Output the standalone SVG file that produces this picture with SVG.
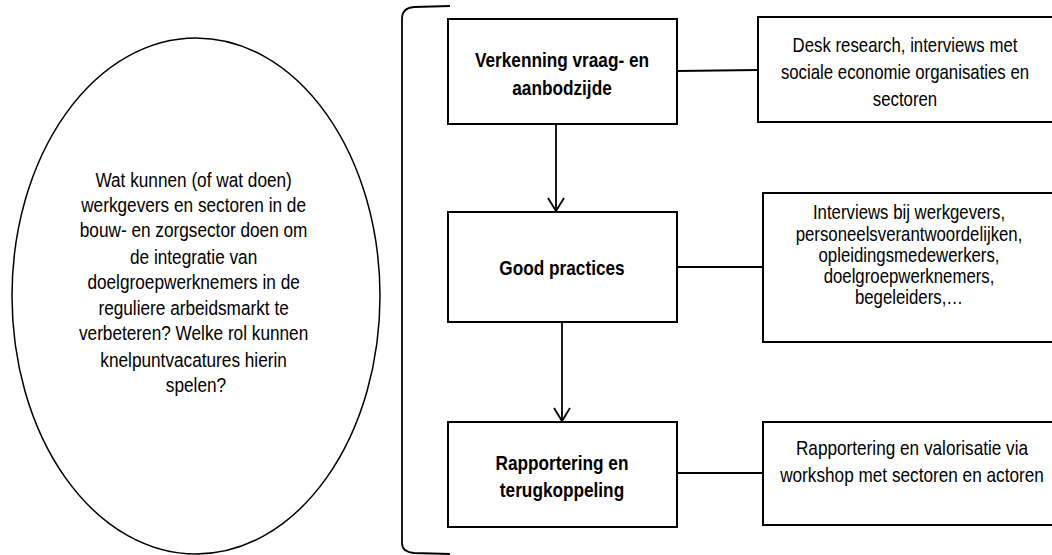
<svg xmlns="http://www.w3.org/2000/svg" width="1052" height="555" viewBox="0 0 1052 555">
<style>
  .box{fill:#fff;stroke:#000;stroke-width:2}
  .t{font-family:"Liberation Sans",Arial,sans-serif;font-size:20px;text-anchor:middle;fill:#000}
  .tb{font-family:"Liberation Sans",Arial,sans-serif;font-size:21px;font-weight:bold;text-anchor:middle;fill:#000}
  .c{fill:none;stroke:#000;stroke-width:1.8}
</style>
<defs>
  <marker id="v" markerWidth="20" markerHeight="20" refX="14" refY="10" orient="auto" markerUnits="userSpaceOnUse" viewBox="0 0 20 20">
    <path d="M1,2 L14,10 L1,18" fill="none" stroke="#000" stroke-width="1.8"/>
  </marker>
</defs>
<rect width="1052" height="555" fill="#fff"/>
<g id="question">
  <ellipse cx="196" cy="296" rx="184" ry="258" fill="#fff" stroke="#000" stroke-width="1.5"/>
  <g transform="translate(196,0) scale(0.84,1)">
  <text class="t" style="font-size:20.5px">
    <tspan x="0" y="187">Wat kunnen (of wat doen)</tspan>
    <tspan x="0" y="212">werkgevers en sectoren in de</tspan>
    <tspan x="0" y="237">bouw- en zorgsector doen om</tspan>
    <tspan x="0" y="264">de integratie van</tspan>
    <tspan x="0" y="289">doelgroepwerknemers in de</tspan>
    <tspan x="0" y="315">reguliere arbeidsmarkt te</tspan>
    <tspan x="0" y="340">verbeteren? Welke rol kunnen</tspan>
    <tspan x="0" y="367">knelpuntvacatures hierin</tspan>
    <tspan x="0" y="392">spelen?</tspan>
  </text>
  </g>
</g>
<g id="bracket">
  <path d="M450,6 L414,7 Q402,8 402,19 L402,543 Q402,552 414,553 L450,554" fill="none" stroke="#000" stroke-width="1.8"/>
</g>
<g id="connectors">
  <line class="c" x1="556" y1="124" x2="556" y2="211" marker-end="url(#v)"/>
  <line class="c" x1="562" y1="322" x2="562" y2="421" marker-end="url(#v)"/>
  <line class="c" x1="677" y1="71" x2="758" y2="70"/>
  <line class="c" x1="677" y1="267" x2="763" y2="267"/>
  <line class="c" x1="677" y1="473" x2="763" y2="473"/>
</g>
<g id="step1">
  <rect class="box" x="448" y="19" width="229" height="105"/>
  <g transform="translate(562,0) scale(0.82,1)">
    <text class="tb"><tspan x="0" y="67">Verkenning vraag- en</tspan><tspan x="0" y="95">aanbodzijde</tspan></text>
  </g>
</g>
<g id="step2">
  <rect class="box" x="448" y="212" width="229" height="110"/>
  <g transform="translate(562,0) scale(0.82,1)">
    <text class="tb"><tspan x="0" y="275">Good practices</tspan></text>
  </g>
</g>
<g id="step3">
  <rect class="box" x="448" y="422" width="229" height="105"/>
  <g transform="translate(562,0) scale(0.82,1)">
    <text class="tb"><tspan x="0" y="470">Rapportering en</tspan><tspan x="0" y="497">terugkoppeling</tspan></text>
  </g>
</g>
<g id="detail1">
  <rect class="box" x="758" y="17" width="310" height="105"/>
  <g transform="translate(905,0) scale(0.84,1)">
    <text class="t"><tspan x="0" y="52">Desk research, interviews met</tspan><tspan x="0" y="79">sociale economie organisaties en</tspan><tspan x="0" y="106">sectoren</tspan></text>
  </g>
</g>
<g id="detail2">
  <rect class="box" x="763" y="193" width="310" height="149"/>
  <g transform="translate(909,0) scale(0.84,1)">
    <text class="t"><tspan x="0" y="219">Interviews bij werkgevers,</tspan><tspan x="0" y="241">personeelsverantwoordelijken,</tspan><tspan x="0" y="262">opleidingsmedewerkers,</tspan><tspan x="0" y="283">doelgroepwerknemers,</tspan><tspan x="0" y="304">begeleiders,…</tspan></text>
  </g>
</g>
<g id="detail3">
  <rect class="box" x="763" y="422" width="310" height="103"/>
  <g transform="translate(912,0) scale(0.86,1)">
    <text class="t"><tspan x="0" y="455">Rapportering en valorisatie via</tspan><tspan x="0" y="482">workshop met sectoren en actoren</tspan></text>
  </g>
</g>
</svg>
